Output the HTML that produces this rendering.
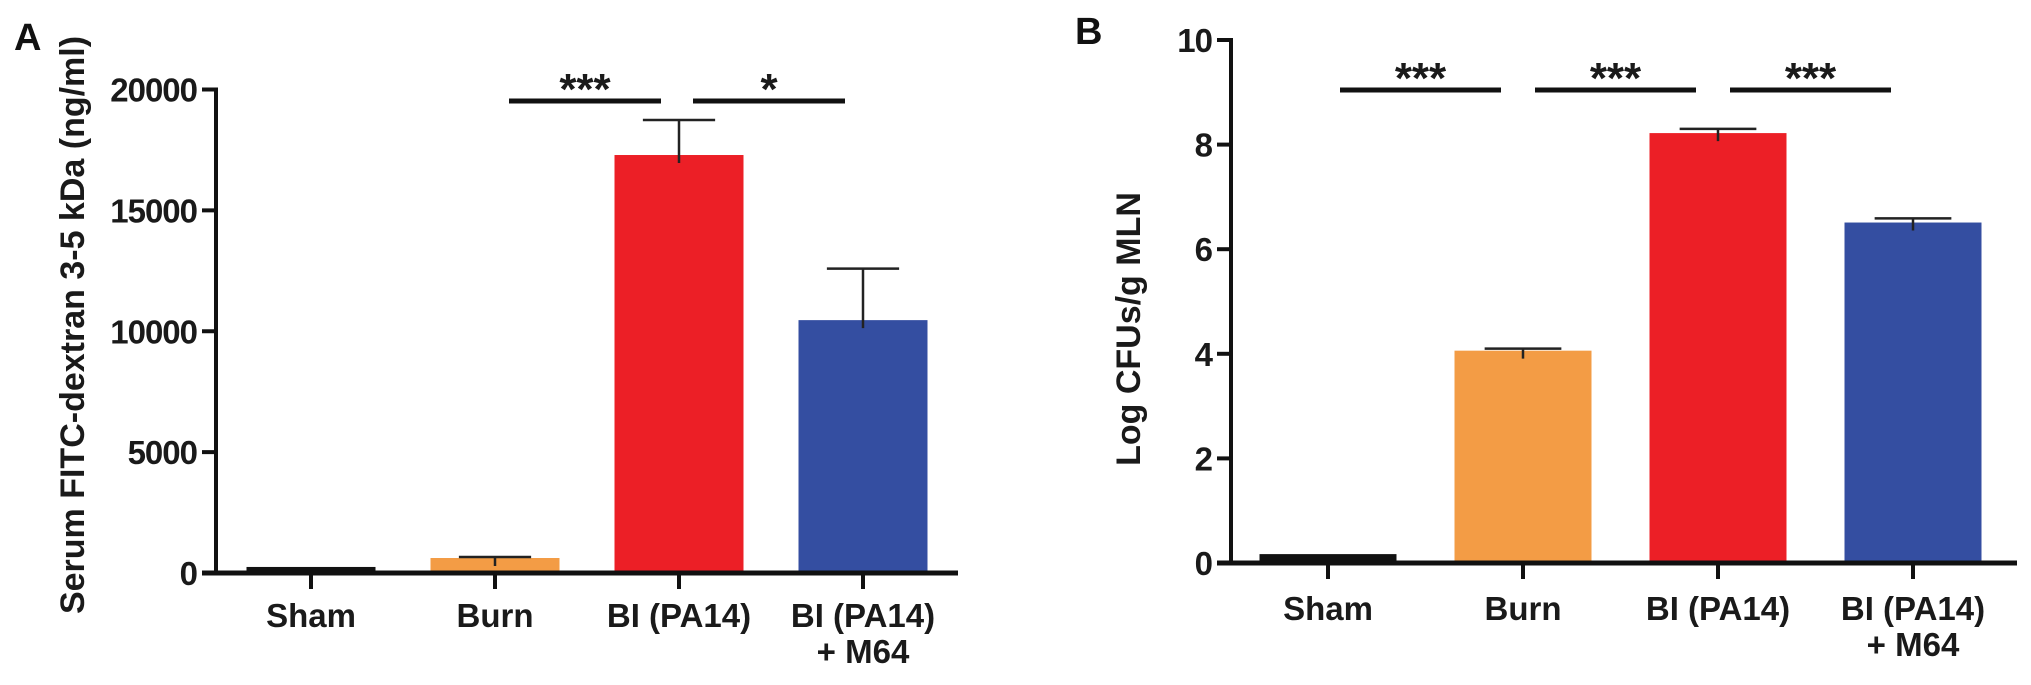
<!DOCTYPE html>
<html><head><meta charset="utf-8"><style>
html,body{margin:0;padding:0;background:#fff;}
svg{display:block;font-family:"Liberation Sans",Arial,sans-serif;font-weight:bold;}
</style></head><body>
<svg id="chart" width="2031" height="685" viewBox="0 0 2031 685" xmlns="http://www.w3.org/2000/svg"></svg>
<script>
const categories = ["Sham", "Burn", "BI (PA14)", "BI (PA14)|+ M64"];
const colors = ["#111111", "#f39c45", "#ec1f26", "#344ea1"];
const valuesA = [250, 620, 17290, 10460];
const errorsA = [0, 40, 1450, 2130];
const ticksA = [0, 5000, 10000, 15000, 20000];
const valuesB = [0.17, 4.06, 8.22, 6.51];
const errorsB = [0, 0.04, 0.08, 0.08];
const ticksB = [0, 2, 4, 6, 8, 10];
const sigA = [[1, 2, "***"], [2, 3, "*"]];
const sigB = [[0, 1, "***"], [1, 2, "***"], [2, 3, "***"]];

const NS = "http://www.w3.org/2000/svg";
const svg = document.getElementById("chart");
function mk(tag, attrs, parent) {
  const e = document.createElementNS(NS, tag);
  for (const k in attrs) e.setAttribute(k, attrs[k]);
  (parent || svg).appendChild(e);
  return e;
}

function panel(cfg) {
  const g = mk("g", {});
  
  
  const y = v => cfg.y0 - (v / cfg.max) * (cfg.y0 - cfg.yTop);
  const x = i => cfg.x0 + i * cfg.step;
  cfg.values.forEach((v, i) => {
    const r = mk("rect", {x: x(i) - cfg.bw / 2, y: y(v), width: cfg.bw, height: cfg.y0 - y(v), fill: colors[i]}, g);
    
    
    if (cfg.errors[i] > 0) {
      const top = y(v + cfg.errors[i]);
      const eb = mk("path", {d: `M${x(i)} ${y(v)+8} V${top} M${x(i)-cfg.bw*0.28} ${top} H${x(i)+cfg.bw*0.28}`, stroke: "#222", "stroke-width": 2.5, fill: "none"}, g);
      
      
    }
  });
  const ya = mk("line", {x1: cfg.axisX, y1: cfg.yTop - 2, x2: cfg.axisX, y2: cfg.y0 + 2, stroke: "#111", "stroke-width": 4}, g);
  
  
  cfg.ticks.forEach(t => {
    mk("line", {x1: cfg.axisX - 14, y1: y(t), x2: cfg.axisX, y2: y(t), stroke: "#111", "stroke-width": 4}, g);
    const tl = mk("text", {x: cfg.axisX - 19, y: y(t) + 12, "text-anchor": "end", "font-size": 33, fill: "#1a1a1a", "letter-spacing": -1}, g);
    tl.textContent = t;
    
    
  });
  const xa = mk("line", {x1: cfg.axisX - 14, y1: cfg.y0, x2: cfg.xEnd, y2: cfg.y0, stroke: "#111", "stroke-width": 5}, g);
  
  
  categories.forEach((c, i) => {
    mk("line", {x1: x(i), y1: cfg.y0, x2: x(i), y2: cfg.y0 + 16, stroke: "#111", "stroke-width": 4}, g);
    c.split("|").forEach((ln, j) => {
      const t = mk("text", {x: x(i), y: cfg.labelY + j * 36, "text-anchor": "middle", "font-size": 33, fill: "#1a1a1a"}, g);
      t.textContent = ln;
      
      
    });
  });
  cfg.sig.forEach(([a, b, s]) => {
    const l = mk("line", {x1: x(a) + cfg.sigPad, y1: cfg.sigY, x2: x(b) - cfg.sigPad2, y2: cfg.sigY, stroke: "#111", "stroke-width": 5}, g);
    
    
    const t = mk("text", {x: (x(a) + cfg.sigPad + x(b) - cfg.sigPad2) / 2, y: cfg.sigY + 3, "text-anchor": "middle", "font-size": 44, fill: "#1a1a1a"}, g);
    t.textContent = s;
    
    
  });
  const yt = mk("text", {x: 0, y: 0, transform: `translate(${cfg.titleX},${cfg.titleY}) rotate(-90)`, "text-anchor": "middle", "font-size": 34, fill: "#1a1a1a"}, g);
  yt.textContent = cfg.title;
  
  
  const pl = mk("text", {x: cfg.letterX, y: cfg.letterY, "font-size": 38, fill: "#111"}, g);
  pl.textContent = cfg.letter;
  
  
}

panel({name: "panel-a", values: valuesA, errors: errorsA, ticks: ticksA, max: 20000,
  y0: 573, yTop: 89.5, axisX: 216, x0: 311, step: 184, bw: 129, xEnd: 958,
  labelY: 627, sig: sigA, sigY: 101, sigPad: 14, sigPad2: 18, title: "Serum FITC-dextran 3-5 kDa (ng/ml)",
  titleX: 84, titleY: 325, letter: "A", letterX: 14, letterY: 50});
panel({name: "panel-b", values: valuesB, errors: errorsB, ticks: ticksB, max: 10,
  y0: 563, yTop: 40, axisX: 1231, x0: 1328, step: 195, bw: 137, xEnd: 2017,
  labelY: 620, sig: sigB, sigY: 90, sigPad: 12, sigPad2: 22, title: "Log CFUs/g MLN",
  titleX: 1140, titleY: 329, letter: "B", letterX: 1075, letterY: 44});
</script>
</body></html>
